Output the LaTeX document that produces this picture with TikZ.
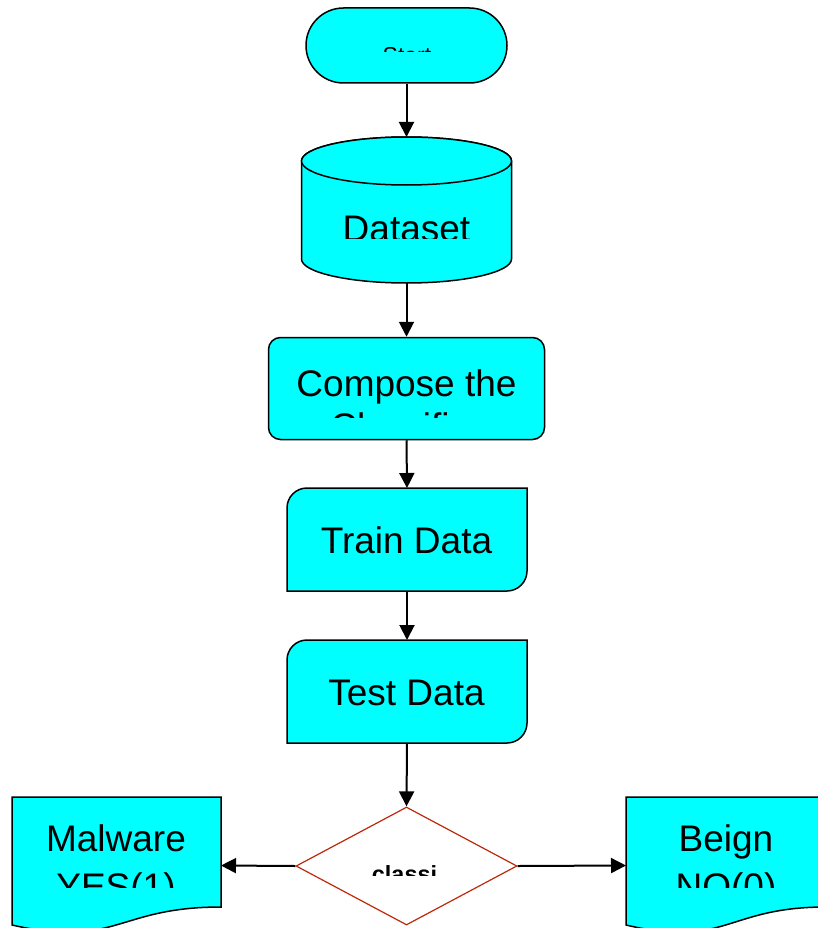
\documentclass[tikz,border=0pt]{standalone}
\usepackage{fontspec}
\setmainfont{Liberation Sans}
\usetikzlibrary{arrows.meta, shapes.geometric, shapes.misc, positioning}

\definecolor{flowcyan}{RGB}{0,255,255}
\definecolor{decisionred}{RGB}{190,40,10}

\tikzset{
    flow/.style={draw=black, fill=flowcyan, line width=1.5pt},
    anchorbox/.style={inner sep=0pt, outer sep=0pt},
    bigtext/.style={font=\fontsize{37}{43}\selectfont, inner sep=0pt, anchor=base},
    link/.style={line width=2pt, -{Triangle[length=15pt, width=15pt]}},
}

\begin{document}
\begin{tikzpicture}[x=1pt, y=-1pt]
                    \useasboundingbox (0,0) rectangle (818,928);
                    \clip (0,0) rectangle (818,928);

                    % start terminal
                    \node[flow, rounded rectangle, minimum width=201pt, minimum height=75pt, inner sep=0pt] (start) at (406.5,45.5) {};
                    \begin{scope}
                        \clip (306,40) rectangle (507,52);
                        \node[font=\fontsize{23}{27}\selectfont, inner sep=0pt, anchor=base] (starttxt) at (407,63.5) {Start};
                    \end{scope}

                    % dataset cylinder
                    \node[anchorbox, minimum width=210pt, minimum height=146pt] (dataset) at (406.5,210) {};
                    \draw[flow]
                    (301.5,161) -- (301.5,259) arc[start angle=180, end angle=0, x radius=105, y radius=24]
                    -- (511.5,161) arc[start angle=0, end angle=-180, x radius=105, y radius=24] -- cycle;
                    \draw[flow] (406.5,161) ellipse[x radius=105, y radius=24];
                    \begin{scope}
                        \clip (301,190) rectangle (512,238);
                        \node[bigtext] (datasettxt) at (406.5,241.5) {Dataset};
                    \end{scope}

                    % classifier box
                    \node[flow, rounded corners=12pt, minimum width=276pt, minimum height=102pt, inner sep=0pt] (compose) at (406.5,388.5) {};
                    \begin{scope}
                        \clip (269,350) rectangle (544,417);
                        \node[bigtext] (composetxt) at (406.5,396) {Compose the};
                        \node[bigtext] (composetxt2) at (406.5,439) {Classifier};
                    \end{scope}

                    % train / test data boxes
                    \foreach \name/\top/\txt in {train/488/Train Data, test/640/Test Data} {
                        \node[anchorbox, minimum width=240pt, minimum height=103pt] (\name) at (407,\top+51.5) {};
                        \draw[flow]
                        (287,\top+103) -- (287,\top+20) arc[start angle=180, end angle=270, radius=20]
                        -- (527,\top) -- (527,\top+83) arc[start angle=0, end angle=90, radius=20] -- cycle;
                        \node[bigtext] (\name txt) at (406.5,\top+65.5) {\txt};
                    }

                    % decision
                    \node[diamond, draw=decisionred, fill=white, line width=1.2pt, minimum width=221pt, minimum height=118pt, inner sep=0pt] (classify) at (406.5,866) {};
                    \begin{scope}
                        \clip (340,850) rectangle (470,875);
                        \node[font=\fontsize{23.4}{27}\selectfont\bfseries, inner sep=0pt, anchor=base] (classifytxt) at (404.5,882) {classi};
                    \end{scope}

                    % result documents
                    \node[anchorbox, minimum width=209pt, minimum height=137pt] (malware) at (116.5,865.5) {};
                    \draw[flow]
                    (12,797) -- (221,797) -- (221,907)
                    .. controls (116.5,907) and (116.5,948.7) .. (12,925) -- cycle;
                    \node[anchorbox, minimum width=200pt, minimum height=137pt] (beign) at (726,865.5) {};
                    \draw[flow]
                    (626,797) -- (826,797) -- (826,907)
                    .. controls (726,907) and (726,948.7) .. (626,925) -- cycle;
                    \begin{scope}
                        \clip (0,800) rectangle (818,887);
                        \node[bigtext] (malwaretxt) at (116,851) {Malware};
                        \node[bigtext] (malwaretxt2) at (116,899) {YES(1)};
                        \node[bigtext] (beigntxt) at (726,851) {Beign};
                        \node[bigtext] (beigntxt2) at (726,899) {NO(0)};
                    \end{scope}

                    % connectors
                    \draw[link] (start.south) -- (dataset.north);
                    \draw[link] (dataset.south) -- (compose.north);
                    \draw[link] (compose.south) -- (train.north);
                    \draw[link] (train.south) -- (test.north);
                    \draw[link] (test.south) -- (classify.north);
                    \draw[link] (classify.west) -- (malware.east);
                    \draw[link] (classify.east) -- (beign.west);
                \end{tikzpicture}
\end{document}
